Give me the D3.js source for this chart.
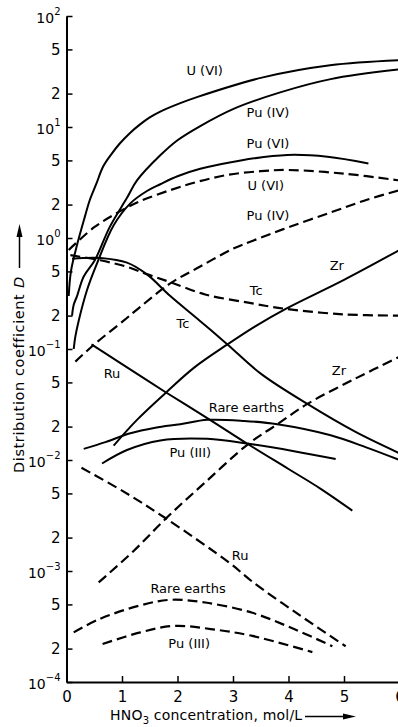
<!DOCTYPE html>
<html>
<head>
<meta charset="utf-8">
<script src="https://cdn.jsdelivr.net/npm/d3@7/dist/d3.min.js"></script>
<style>
  html, body { margin: 0; padding: 0; background: #fff; }
  svg { display: block; font-family: "DejaVu Sans", sans-serif; }
</style>
</head>
<body>
<div id="chart"></div>
<script>
// Distribution coefficient D vs HNO3 concentration (mol/L)
// solid = one extractant system, dashed = the other
const uviSolid = [[0.04,0.3],[0.08,0.5],[0.18,0.83],[0.33,1.55],[0.42,2.2],[0.54,3.1],[0.66,4.4],[0.81,5.7],[0.96,7.1],[1.14,8.8],[1.32,10.5],[1.5,12.2],[1.68,13.7],[2.05,16.4],[2.35,18.6],[3.54,28],[4.75,36],[6,40]];
const puivSolid = [[0.1,0.2],[0.13,0.25],[0.19,0.3],[0.31,0.45],[0.51,0.63],[0.78,1.26],[1.09,2.3],[1.27,3.3],[1.68,5.5],[2.0,7.6],[2.41,10.2],[3.0,14.5],[3.85,20.5],[4.76,27],[6,33]];
const puviSolid = [[0.13,0.1],[0.16,0.13],[0.22,0.18],[0.37,0.34],[0.55,0.59],[0.85,1.3],[1.15,2.05],[1.45,2.65],[1.69,3.05],[2.0,3.6],[2.41,4.2],[3.14,5.0],[3.98,5.6],[4.7,5.4],[5.44,4.7]];
const tcSolid = [[0.1,0.65],[0.3,0.66],[0.61,0.66],[1.09,0.6],[1.45,0.47],[1.87,0.3],[2.4,0.18],[2.9,0.11],[3.5,0.06],[4.34,0.032],[5.2,0.018],[6,0.0115]];
const ruSolid = [[0.45,0.11],[1.0,0.073],[1.78,0.041],[2.5,0.0245],[3.28,0.0138],[4.0,0.0083],[4.58,0.0055],[5.15,0.0035]];
const zrSolid = [[0.85,0.0135],[1.27,0.023],[1.78,0.04],[2.3,0.068],[2.9,0.11],[3.4,0.16],[3.95,0.23],[5,0.42],[6,0.78]];
const reSolid = [[0.31,0.0126],[0.7,0.0145],[1.15,0.0174],[1.6,0.0195],[2.05,0.021],[2.54,0.023],[3.2,0.0225],[3.8,0.021],[4.76,0.0167],[5.4,0.013],[6,0.01]];
const puiiiSolid = [[0.64,0.0093],[1.09,0.0123],[1.69,0.015],[2.54,0.0155],[3.28,0.014],[4.1,0.012],[4.85,0.0102]];

const uviDashed = [[0.04,0.78],[0.5,1.25],[0.91,1.68],[1.33,2.15],[1.87,2.7],[2.35,3.2],[2.9,3.7],[3.5,4.0],[4.0,4.1],[5.0,3.8],[6,3.3]];
const puivDashed = [[0.16,0.077],[0.5,0.11],[1.03,0.18],[1.33,0.24],[1.87,0.39],[2.4,0.55],[3.0,0.8],[3.37,0.95],[4,1.25],[4.76,1.7],[5.4,2.2],[6,2.7]];
const tcDashed = [[0.07,0.7],[0.61,0.63],[1.09,0.55],[1.46,0.47],[1.87,0.4],[2.5,0.31],[3.3,0.26],[3.95,0.23],[5,0.205],[6,0.2]];
const zrDashed = [[0.58,0.00079],[1.2,0.0015],[1.8,0.003],[2.5,0.0063],[3.28,0.014],[3.8,0.021],[4.34,0.032],[5.2,0.054],[6,0.085]];
const ruDashed = [[0.27,0.0085],[1.0,0.0053],[1.78,0.003],[2.95,0.00117],[3.35,0.0008],[4.2,0.0004],[5.03,0.00021]];
const reDashed = [[0.13,0.00028],[0.6,0.00037],[1.33,0.00049],[1.87,0.00055],[2.5,0.00052],[3.35,0.00042],[4.1,0.0003],[4.79,0.00021]];
const puiiiDashed = [[0.65,0.00022],[1.33,0.00028],[1.93,0.00032],[2.6,0.0003],[3.35,0.00026],[4.43,0.000186]];

// curve labels: text, x (mol/L), D at baseline
const curveLabels = [
  ['U (VI)', 2.49, 29.4], ['Pu (IV)', 3.63, 12.3], ['Pu (VI)', 3.63, 6.47],
  ['U (VI)', 3.59, 2.70], ['Pu (IV)', 3.63, 1.45], ['Tc', 3.42, 0.306],
  ['Zr', 4.87, 0.515], ['Tc', 2.10, 0.155], ['Ru', 0.82, 0.0548],
  ['Zr', 4.91, 0.0583], ['Rare earths', 3.24, 0.027], ['Pu (III)', 2.23, 0.01064],
  ['Ru', 3.13, 0.001256], ['Rare earths', 2.19, 0.000634], ['Pu (III)', 2.21, 0.000202]
];

const xTicks = [0, 1, 2, 3, 4, 5, 6];
const decades = [-4, -3, -2, -1, 0, 1, 2];
const mantissas = [2, 5];

const W = 398, H = 727;
const svg = d3.select('#chart').append('svg').attr('width', W).attr('height', H);

const x = d3.scaleLinear().domain([0, 6]).range([66.5, 399.5]);
const y = d3.scaleLog().domain([1e-4, 1e2]).range([682, 16]);

// y tick values: decades plus 2 and 5 in between
const yTicks = [];
decades.forEach(e => {
  yTicks.push(Math.pow(10, e));
  if (e < 2) mantissas.forEach(m => yTicks.push(m * Math.pow(10, e)));
});
const expOf = d => Math.floor(Math.log10(d) + 1e-9);
const mantOf = d => Math.round(d / Math.pow(10, expOf(d)));

const series = [
  { data: uviSolid }, { data: puivSolid }, { data: puviSolid }, { data: tcSolid },
  { data: ruSolid }, { data: zrSolid }, { data: reSolid }, { data: puiiiSolid },
  { data: uviDashed, dashed: true }, { data: puivDashed, dashed: true },
  { data: tcDashed, dashed: true }, { data: zrDashed, dashed: true },
  { data: ruDashed, dashed: true }, { data: reDashed, dashed: true },
  { data: puiiiDashed, dashed: true }
];

const line = d3.line()
  .x(d => x(d[0]))
  .y(d => y(d[1]))
  .curve(d3.curveCatmullRom.alpha(0.5));

series.forEach(s => {
  svg.append('path')
    .datum(s.data)
    .attr('d', line)
    .attr('fill', 'none')
    .attr('stroke', '#000')
    .attr('stroke-width', s.dashed ? 2.2 : 2)
    .attr('stroke-dasharray', s.dashed ? '10,5' : null);
});

// Y axis
const gy = svg.append('g')
  .attr('transform', `translate(${x(0)},0)`)
  .call(d3.axisLeft(y).tickValues(yTicks).tickSizeInner(-6).tickSizeOuter(0).tickPadding(6));
gy.attr('font-family', null).attr('font-size', 15);
gy.select('.domain').attr('stroke-width', 2);
gy.selectAll('.tick line').attr('stroke-width', 1.5);
gy.selectAll('.tick text').each(function(d) {
  const t = d3.select(this).attr('fill', '#000');
  const e = expOf(d);
  const m = mantOf(d);
  if (m === 1) {
    t.text('10').attr('font-size', 14).attr('dy', '0.45em');
    t.append('tspan')
      .attr('font-size', 10)
      .attr('dy', '-0.75em')
      .text(e < 0 ? '\u2212' + (-e) : e);
  } else {
    t.text(m);
  }
});

// X axis
const gx = svg.append('g')
  .attr('transform', `translate(0,${y(1e-4)})`)
  .call(d3.axisBottom(x).tickValues(xTicks).tickFormat(d3.format('d'))
    .tickSizeInner(-6).tickSizeOuter(0).tickPadding(9));
gx.attr('font-family', null).attr('font-size', 15);
gx.select('.domain').attr('stroke-width', 2);
gx.selectAll('.tick line').attr('stroke-width', 1.5).filter(d => d === 0).remove();
gx.selectAll('.tick text').attr('fill', '#000');

// curve labels
svg.append('g')
  .attr('font-size', 13)
  .attr('text-anchor', 'middle')
  .selectAll('text')
  .data(curveLabels)
  .join('text')
  .attr('x', d => x(d[1]))
  .attr('y', d => y(d[2]))
  .text(d => d[0]);

// Y axis title with arrow
svg.append('text')
  .attr('transform', 'translate(24,473) rotate(-90)')
  .attr('font-size', 14.5)
  .attr('letter-spacing', 0.6)
  .text('Distribution coefficient');
svg.append('text')
  .attr('transform', 'translate(24,288) rotate(-90)')
  .attr('font-size', 14.5)
  .attr('font-style', 'italic')
  .text('D');
svg.append('line')
  .attr('x1', 19.5).attr('x2', 19.5).attr('y1', 268).attr('y2', 234)
  .attr('stroke', '#000').attr('stroke-width', 1.5);
svg.append('path')
  .attr('d', 'M19.5,224 L16.5,237 L22.5,237 Z')
  .attr('fill', '#000');

// X axis title with arrow
const xt = svg.append('text')
  .attr('x', 110).attr('y', 720)
  .attr('font-size', 14)
  .attr('letter-spacing', 0.2);
xt.append('tspan').text('HNO');
xt.append('tspan').attr('font-size', 10).attr('dy', 3.5).text('3');
xt.append('tspan').attr('dy', -3.5).text(' concentration, mol/L');
svg.append('line')
  .attr('x1', 305).attr('x2', 345).attr('y1', 716.5).attr('y2', 716.5)
  .attr('stroke', '#000').attr('stroke-width', 1.5);
svg.append('path')
  .attr('d', 'M356,716.5 L343,713.5 L343,719.5 Z')
  .attr('fill', '#000');
</script>
</body>
</html>
